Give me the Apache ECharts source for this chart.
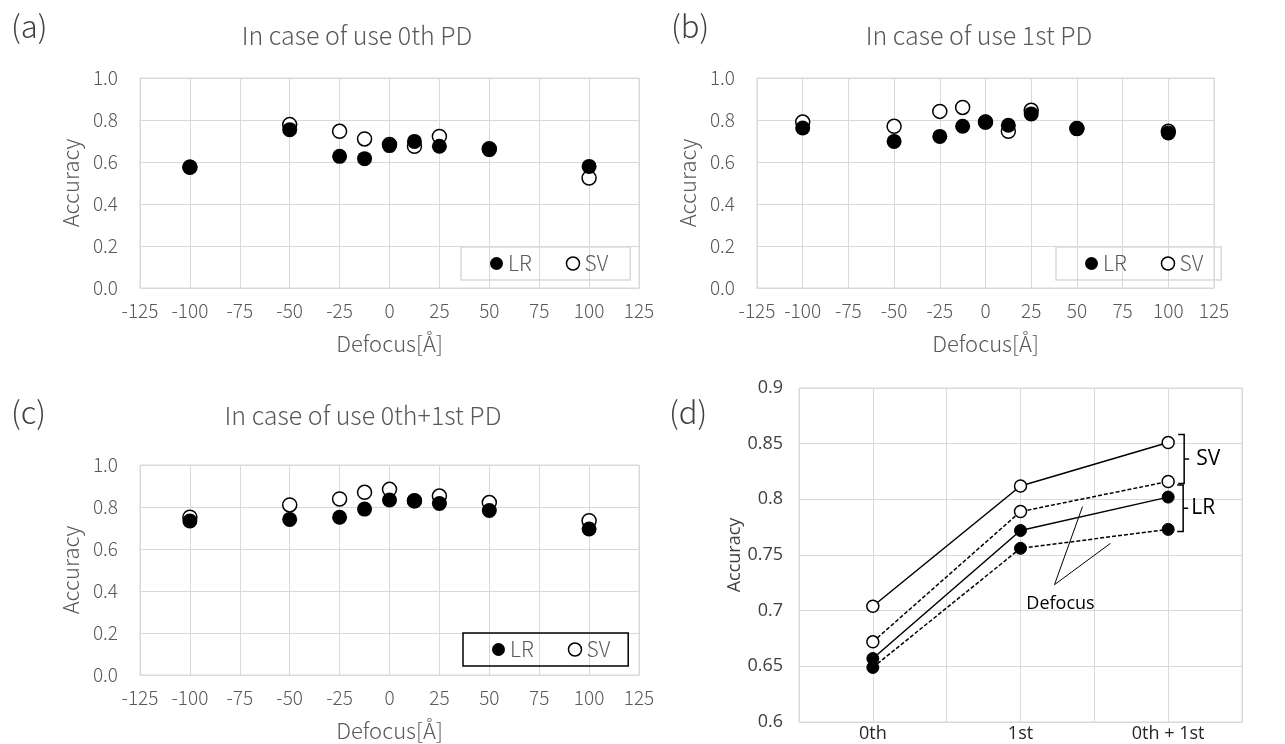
<!DOCTYPE html>
<html>
<head>
<meta charset="utf-8">
<script src="https://cdn.jsdelivr.net/npm/echarts@6/dist/echarts.min.js"></script>
<style>
html,body{margin:0;padding:0;background:#fff;}
#chart{width:1285px;height:744px;}
</style>
</head>
<body>
<div id="chart"></div>
<script>
// ---------- data ----------
const defocus = [-100, -50, -25, -12.5, 0, 12.5, 25, 50, 100];
const xTicks = [-125, -100, -75, -50, -25, 0, 25, 50, 75, 100, 125];
const yTicksAC = [0.0, 0.2, 0.4, 0.6, 0.8, 1.0];

// (a) 0th PD
const lr0 = [0.576, 0.754, 0.627, 0.616, 0.678, 0.698, 0.675, 0.659, 0.579];
const sv0 = [0.575, 0.778, 0.746, 0.710, 0.683, 0.675, 0.722, 0.663, 0.524];
// (b) 1st PD
const lr1 = [0.762, 0.698, 0.722, 0.770, 0.790, 0.775, 0.829, 0.759, 0.738];
const sv1 = [0.790, 0.770, 0.841, 0.860, 0.790, 0.746, 0.846, 0.759, 0.746];
// (c) 0th+1st PD
const lr01 = [0.733, 0.741, 0.751, 0.790, 0.833, 0.829, 0.817, 0.783, 0.695];
const sv01 = [0.751, 0.810, 0.838, 0.870, 0.884, 0.830, 0.852, 0.821, 0.735];

// (d) summary
const stages = ['0th', '1st', '0th + 1st'];
const svSolid  = [0.704, 0.812, 0.851];
const svDashed = [0.672, 0.789, 0.816];
const lrSolid  = [0.657, 0.772, 0.802];
const lrDashed = [0.649, 0.756, 0.773];
const yTicksD = [0.6, 0.65, 0.7, 0.75, 0.8, 0.85, 0.9];

const titles = ['In case of use 0th PD', 'In case of use 1st PD', 'In case of use 0th+1st PD'];
const panelLabels = ['(a)', '(b)', '(c)', '(d)'];

// ---------- styling ----------
const JP = '"Noto Sans CJK JP", "Noto Sans", sans-serif';
const LAT = '"Open Sans", "Noto Sans", sans-serif';
const TXT = '#595959';
const GRID = '#d9d9d9';

const grids = [
  {left: 140, top: 78, width: 499, height: 210},
  {left: 757, top: 78, width: 457, height: 210},
  {left: 140, top: 465, width: 499, height: 210},
  {left: 799, top: 388, width: 443, height: 334}
].map(g => Object.assign({show: true, borderColor: GRID, borderWidth: 1, containLabel: false}, g));

function xAxisDefocus(gi) {
  return {
    type: 'value', gridIndex: gi, min: xTicks[0], max: xTicks[xTicks.length - 1], interval: 25,
    name: 'Defocus[Å]', nameLocation: 'middle', nameGap: 45,
    nameTextStyle: {fontFamily: JP, fontSize: 22, color: TXT, fontWeight: 300},
    axisLine: {show: true, lineStyle: {color: GRID}},
    axisTick: {show: false},
    axisLabel: {fontFamily: JP, fontSize: 19, color: TXT, margin: 13, fontWeight: 300},
    splitLine: {show: true, lineStyle: {color: GRID, width: 1}}
  };
}
function yAxisAcc(gi) {
  return {
    type: 'value', gridIndex: gi, min: yTicksAC[0], max: yTicksAC[yTicksAC.length - 1], interval: 0.2,
    name: 'Accuracy', nameLocation: 'middle', nameGap: 58,
    nameTextStyle: {fontFamily: JP, fontSize: 22, color: TXT, fontWeight: 300},
    axisLine: {show: false}, axisTick: {show: false},
    axisLabel: {fontFamily: JP, fontSize: 19, color: TXT, margin: 22, fontWeight: 300,
      formatter: v => v.toFixed(1)},
    splitLine: {show: true, lineStyle: {color: GRID, width: 1}}
  };
}

const xAxes = [xAxisDefocus(0), xAxisDefocus(1), xAxisDefocus(2), {
  type: 'value', gridIndex: 3, min: 0, max: stages.length * 2, interval: 1,
  axisLine: {show: true, lineStyle: {color: GRID}}, axisTick: {show: false},
  axisLabel: {fontFamily: LAT, fontSize: 18, color: '#262626', margin: 3,
    formatter: v => (v % 2 === 1 ? stages[(v - 1) / 2] : '')},
  splitLine: {show: true, lineStyle: {color: GRID, width: 1}}
}];
const yAxes = [yAxisAcc(0), yAxisAcc(1), yAxisAcc(2), {
  type: 'value', gridIndex: 3, min: yTicksD[0], max: yTicksD[yTicksD.length - 1], interval: 0.05,
  name: 'Accuracy', nameLocation: 'middle', nameGap: 50,
  nameTextStyle: {fontFamily: LAT, fontSize: 18, color: '#404040'},
  axisLine: {show: false}, axisTick: {show: false},
  axisLabel: {fontFamily: LAT, fontSize: 18, color: '#404040', margin: 16,
    formatter: v => String(Math.round(v * 100) / 100)},
  splitLine: {show: true, lineStyle: {color: GRID, width: 1}}
}];

function scat(name, vals, gi, filled) {
  return {
    name: name, type: 'scatter', xAxisIndex: gi, yAxisIndex: gi,
    symbol: 'circle', symbolSize: filled ? 15 : 14,
    itemStyle: filled ? {color: '#000', borderColor: '#000', borderWidth: 0, opacity: 1}
                      : {color: '#fff', borderColor: '#000', borderWidth: 1.5, opacity: 1},
    z: filled ? 3 : 2,
    data: defocus.map((d, i) => [d, vals[i]])
  };
}
function dline(name, vals, filled, dashed) {
  return {
    name: name, type: 'line', xAxisIndex: 3, yAxisIndex: 3,
    symbol: 'circle', symbolSize: 12, showSymbol: true,
    lineStyle: {color: '#000', width: 1.5, type: dashed ? [4, 2] : 'solid'},
    itemStyle: filled ? {color: '#000', borderColor: '#000', borderWidth: 1, opacity: 1}
                      : {color: '#fff', borderColor: '#000', borderWidth: 1.5, opacity: 1},
    z: filled ? 4 : 3,
    data: stages.map((s, i) => [2 * i + 1, vals[i]])
  };
}

const series = [
  scat('SV', sv0, 0, false), scat('LR', lr0, 0, true),
  scat('SV', sv1, 1, false), scat('LR', lr1, 1, true),
  scat('SV', sv01, 2, false), scat('LR', lr01, 2, true),
  dline('SV solid', svSolid, false, false),
  dline('SV dashed', svDashed, false, true),
  dline('LR solid', lrSolid, true, false),
  dline('LR dashed', lrDashed, true, true)
];

function legendAt(left, top, border, w, padR) {
  return {
    left: left, top: top, orient: 'horizontal',
    data: [{name: 'LR', icon: 'circle', itemStyle: {color: '#000', borderWidth: 0, opacity: 1}},
           {name: 'SV', icon: 'circle', itemStyle: {color: '#fff', borderColor: '#000', borderWidth: 1.5, opacity: 1}}],
    itemWidth: 13, itemHeight: 13, itemGap: 34,
    padding: [6, padR, 6, 29],
    borderColor: border, borderWidth: w, selectedMode: false,
    textStyle: {fontFamily: JP, fontSize: 21, color: TXT, fontWeight: 300}
  };
}

const titleOpts = [
  {text: titles[0], left: 352, top: 18, textAlign: 'center'},
  {text: titles[1], left: 974, top: 18, textAlign: 'center'},
  {text: titles[2], left: 358, top: 398, textAlign: 'center'}
].map(t => Object.assign(t, {textStyle: {fontFamily: JP, fontSize: 25, fontWeight: 300, color: TXT}}));
const labelPos = [[6, 6], [666, 6], [6, 392], [664, 392]];
panelLabels.forEach((p, i) => titleOpts.push({
  text: p, left: labelPos[i][0], top: labelPos[i][1],
  textStyle: {fontFamily: JP, fontSize: 31, fontWeight: 300, color: '#404040'}
}));

const chart = echarts.init(document.getElementById('chart'), null, {renderer: 'canvas'});
chart.setOption({
  backgroundColor: '#fff',
  animation: false,
  title: titleOpts,
  grid: grids,
  xAxis: xAxes,
  yAxis: yAxes,
  legend: [legendAt(461, 247, GRID, 1.5, 22), legendAt(1056, 247, GRID, 1.5, 18), legendAt(463, 633, '#000', 1.5, 18)],
  series: series
});

// ---------- annotations for (d), anchored to data via the axes ----------
const last = 2 * (stages.length - 1) + 1;
const px = (x, y) => chart.convertToPixel({gridIndex: 3}, [x, y]);
const pSvTop = px(last, svSolid[2]), pSvBot = px(last, svDashed[2]);
const pLrTop = px(last, lrSolid[2]), pLrBot = px(last, lrDashed[2]);
function bracket(top, bot, xb) {
  const mid = (top + bot) / 2;
  return [
    {type: 'polyline', shape: {points: [[xb - 6, top], [xb, top], [xb, bot], [xb - 6, bot]]},
     style: {stroke: '#000', lineWidth: 1.5, fill: null}},
    {type: 'line', shape: {x1: xb, y1: mid, x2: xb + 5, y2: mid}, style: {stroke: '#000', lineWidth: 1.5}}
  ];
}
const xb = pSvTop[0] + 16;
const sv1pt = px(3, svDashed[1]), lr1pt = px(3, lrDashed[1]);
const apex = [sv1pt[0] + 34, px(3, 0.7)[1] - 26];
const g = [].concat(
  bracket(pSvTop[1] - 8, pSvBot[1] + 2, xb),
  bracket(pLrTop[1] - 12, pLrBot[1] + 2, xb - 1),
  [
    {type: 'text', style: {text: 'SV', x: xb + 12, y: (pSvTop[1] + pSvBot[1]) / 2 - 3, fill: '#000',
      font: '21px ' + LAT, textVerticalAlign: 'middle'}},
    {type: 'text', style: {text: 'LR', x: xb + 7, y: (pLrTop[1] + pLrBot[1]) / 2 - 5, fill: '#000',
      font: '21px ' + LAT, textVerticalAlign: 'middle'}},
    {type: 'text', style: {text: 'Defocus', x: apex[0] + 6, y: apex[1] + 19, fill: '#000',
      font: '18px ' + LAT, textAlign: 'center', textVerticalAlign: 'middle'}},
    {type: 'polyline', shape: {points: [[sv1pt[0] + 62, sv1pt[1] - 5], apex, [lr1pt[0] + 90, lr1pt[1] - 5]]},
     style: {stroke: '#000', lineWidth: 1, fill: null}}
  ]
);
chart.setOption({graphic: g});
</script>
</body>
</html>
